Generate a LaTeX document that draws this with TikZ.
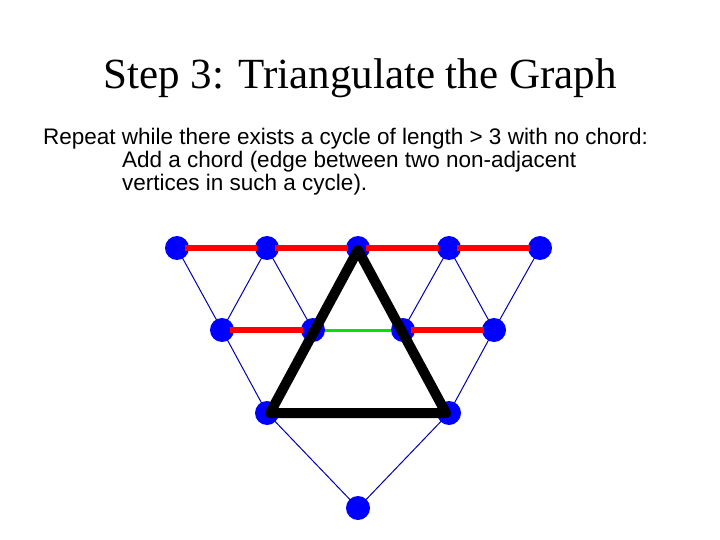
\documentclass[tikz,border=0pt]{standalone}
\usepackage{fontspec}
\setmainfont{Liberation Serif}
\newfontfamily\arial{Liberation Sans}
\begin{document}
\begin{tikzpicture}[x=1pt,y=-1pt,
  vtx/.style={circle,fill=blue,inner sep=0pt,minimum size=24pt},
  blu/.style={draw=blue!70!black,line width=1pt},
  red/.style={draw=red,line width=5.5pt,shorten <=8pt,shorten >=10pt},
  grn/.style={draw=green!90!black,line width=3pt},
  blk/.style={draw=black,line width=10pt,line join=round}]
\useasboundingbox (0,0) rectangle (720,540);
\node[font=\fontsize{43}{48}\selectfont] (title) at (360,78) {Step 3: Triangulate the Graph};
\node[font=\arial\fontsize{22.5}{23}\selectfont,anchor=north west,align=left,inner sep=0pt] (txt) at (43,128)
 {Repeat while there exists a cycle of length > 3 with no chord:\\
 \hspace*{79pt}Add a chord (edge between two non-adjacent\\
 \hspace*{79pt}vertices in such a cycle).};
\foreach \n/\x/\y in {a1/177/248,a2/267/248,a3/358/248,a4/449/248,a5/540/248,
  b1/222/330,b2/313/330,b3/403/330,b4/494/330,c1/267/413,c2/449/413,d/358/508}
  \coordinate (\n) at (\x,\y);
\foreach \p/\q in {a1/b1,a2/b1,a2/b2,a3/b2,a3/b3,a4/b3,a4/b4,a5/b4,b1/c1,b2/c1,b3/c2,b4/c2,c1/d,c2/d}
  \draw[blu] (\p) -- (\q);
\foreach \n in {a1,a2,a3,a4,a5,b1,b2,b3,b4,c1,c2,d}
  \node[vtx] (v\n) at (\n) {};
\foreach \p/\q in {a1/a2,a2/a3,a3/a4,a4/a5,b1/b2,b3/b4}
  \draw[red] (\p) -- (\q);
\draw[grn] (vb2.east) -- (vb3.west);
\draw[blk] ([yshift=-2pt]a3) -- ([xshift=3pt]c1) -- ([xshift=-3pt]c2) -- cycle;
\end{tikzpicture}
\end{document}
